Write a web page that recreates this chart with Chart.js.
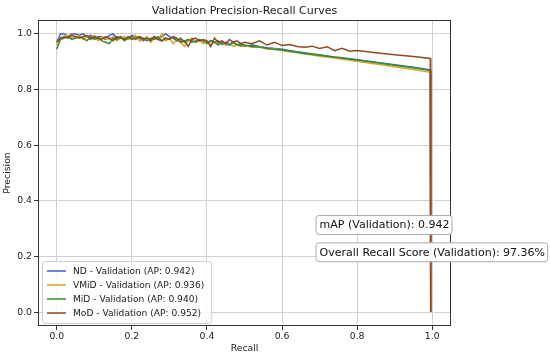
<!DOCTYPE html>
<html>
<head>
<meta charset="utf-8">
<script src="https://cdn.jsdelivr.net/npm/chart.js@4.4.1/dist/chart.umd.min.js"></script>
<style>
html,body{margin:0;padding:0;background:#fff;}
canvas{display:block;}
</style>
</head>
<body>
<canvas id="c" width="550" height="358"></canvas>
<script>
// ---- data ----
const recall = [
  0.00,0.01,0.02,0.03,0.04,0.05,0.06,0.07,0.08,0.09,
  0.10,0.11,0.12,0.13,0.14,0.15,0.16,0.17,0.18,0.19,
  0.20,0.21,0.22,0.23,0.24,0.25,0.26,0.27,0.28,0.29,
  0.30,0.31,0.32,0.33,0.34,0.35,0.36,0.37,0.38,0.39,
  0.40,0.41,0.42,0.43,0.44,0.45,0.46,0.47,0.48,0.49,
  0.50,
  0.52,0.54,0.56,0.58,0.60,0.62,0.64,0.66,0.68,0.70,0.72,0.74,0.76,0.78,0.80,
  0.85,0.90,0.95,0.995,0.996
];
const precisionND = [
  0.97,1.0,1.0,0.99,1.0,1.0,0.995,1.0,0.99,0.995,
  0.985,0.99,0.99,0.98,0.995,1.0,0.985,0.99,0.98,0.985,
  0.995,0.99,0.985,0.975,0.985,0.98,0.99,0.985,0.99,1.0,
  0.99,0.985,0.975,0.98,0.975,0.98,0.97,0.975,0.98,0.975,
  0.97,0.975,0.97,0.975,0.962,0.97,0.965,0.97,0.96,0.965,
  0.955,
  0.96,0.955,0.95,0.948,0.945,0.94,0.936,0.932,0.928,0.925,0.921,0.917,0.914,0.911,0.907,
  0.898,0.889,0.88,0.871,0.0
];
const precisionVMiD = [
  0.96,0.985,0.99,0.995,0.985,0.99,0.995,0.98,0.99,0.985,
  0.995,0.975,0.99,0.985,0.98,0.99,0.975,0.985,0.99,0.98,
  0.985,0.995,0.975,0.98,0.99,0.97,0.985,0.98,1.0,0.975,
  0.985,0.965,0.98,0.97,0.955,0.975,0.985,0.97,0.975,0.965,
  0.975,0.96,0.97,0.965,0.97,0.96,0.965,0.955,0.96,0.955,
  0.958,
  0.952,0.955,0.945,0.946,0.94,0.936,0.932,0.928,0.924,0.92,0.917,0.913,0.909,0.906,0.902,
  0.892,0.882,0.872,0.862,0.0
];
const precisionMiD = [
  0.945,0.98,0.985,0.99,0.98,0.985,0.99,0.985,0.975,0.99,
  0.98,0.985,0.975,0.97,0.965,0.985,0.98,0.99,0.975,0.985,
  0.99,0.98,0.99,0.985,0.975,0.985,0.98,0.99,0.975,0.985,
  0.98,0.99,0.975,0.985,0.97,0.98,0.975,0.97,0.98,0.975,
  0.965,0.975,0.97,0.96,0.97,0.965,0.96,0.97,0.962,0.958,
  0.96,
  0.955,0.952,0.948,0.944,0.942,0.938,0.934,0.93,0.927,0.923,0.92,0.916,0.913,0.909,0.906,
  0.897,0.887,0.878,0.868,0.0
];
const precisionMoD = [
  0.97,0.985,0.99,0.985,0.995,0.99,0.985,0.99,0.995,0.98,
  0.99,0.985,0.98,0.99,0.985,0.975,0.99,0.985,0.98,0.99,
  0.98,0.985,0.99,0.98,0.985,0.975,0.99,0.98,0.975,0.985,
  0.98,0.99,0.985,0.97,0.975,0.955,0.98,0.985,0.975,0.98,
  0.975,0.955,0.985,0.97,0.975,0.965,0.98,0.97,0.975,0.965,
  0.97,
  0.965,0.975,0.96,0.97,0.958,0.962,0.955,0.952,0.956,0.948,0.954,0.94,0.948,0.938,0.94,
  0.932,0.925,0.919,0.912,0.0
];
const seriesNames = ["ND - Validation (AP: 0.942)", "VMiD - Validation (AP: 0.936)", "MiD - Validation (AP: 0.940)", "MoD - Validation (AP: 0.952)"];
const seriesColors = ["#3f5fc8", "#d9a520", "#3a8f30", "#8b4a22"];
const tickValues = [0.0, 0.2, 0.4, 0.6, 0.8, 1.0];
const chartTitle = "Validation Precision-Recall Curves";
const annotationTexts = ["mAP (Validation): 0.942", "Overall Recall Score (Validation): 97.36%"];
const annotationAt = [[0.70, 0.313], [0.70, 0.215]]; // data coords (recall, precision) of text start / centre line

const allPrecision = [precisionND, precisionVMiD, precisionMiD, precisionMoD];
const FONT = "'DejaVu Sans', sans-serif";

const datasets = allPrecision.map((arr, i) => ({
  label: seriesNames[i],
  data: recall.map((r, k) => ({x: r, y: arr[k]})),
  borderColor: seriesColors[i],
  backgroundColor: seriesColors[i],
  borderWidth: 1.5,
  pointRadius: 0,
  tension: 0,
  fill: false,
  order: allPrecision.length - i
}));

function roundRect(ctx, x, y, w, h, r) {
  ctx.beginPath();
  ctx.moveTo(x + r, y);
  ctx.lineTo(x + w - r, y);
  ctx.quadraticCurveTo(x + w, y, x + w, y + r);
  ctx.lineTo(x + w, y + h - r);
  ctx.quadraticCurveTo(x + w, y + h, x + w - r, y + h);
  ctx.lineTo(x + r, y + h);
  ctx.quadraticCurveTo(x, y + h, x, y + h - r);
  ctx.lineTo(x, y + r);
  ctx.quadraticCurveTo(x, y, x + r, y);
  ctx.closePath();
}

const decor = {
  id: 'decor',
  afterDraw(chart) {
    const ctx = chart.ctx;
    const a = chart.chartArea;
    const xs = chart.scales.x, ys = chart.scales.y;
    ctx.save();
    // frame
    ctx.strokeStyle = '#333';
    ctx.lineWidth = 1;
    ctx.strokeRect(Math.round(a.left) + 0.5, Math.round(a.top) + 0.5, Math.round(a.right - a.left) - 1, Math.round(a.bottom - a.top) - 1);
    // title
    ctx.fillStyle = '#1a1a1a';
    ctx.font = "11px " + FONT;
    ctx.textAlign = 'center';
    ctx.textBaseline = 'middle';
    ctx.fillText(chartTitle, (a.left + a.right) / 2, 11);
    // legend
    ctx.font = "9.1px " + FONT;
    ctx.textAlign = 'left';
    const lx = a.left + 4, ly = 261;
    let maxW = 0;
    seriesNames.forEach(n => { maxW = Math.max(maxW, ctx.measureText(n).width); });
    const lw = 34 + maxW + 4, lh = 62;
    ctx.fillStyle = 'rgba(255,255,255,0.8)';
    roundRect(ctx, lx + 0.5, ly + 0.5, lw, lh, 2.5);
    ctx.fill();
    ctx.strokeStyle = '#d0d0d0';
    ctx.lineWidth = 1;
    ctx.stroke();
    seriesNames.forEach((n, i) => {
      const yy = ly + 10 + i * 14;
      ctx.strokeStyle = seriesColors[i];
      ctx.lineWidth = 1.5;
      ctx.beginPath();
      ctx.moveTo(lx + 5, yy);
      ctx.lineTo(lx + 24, yy);
      ctx.stroke();
      ctx.fillStyle = '#1a1a1a';
      ctx.fillText(n, lx + 31, yy + 0.5);
    });
    // annotation boxes
    ctx.font = "11px " + FONT;
    annotationTexts.forEach((t, i) => {
      const tx = xs.getPixelForValue(annotationAt[i][0]);
      const ty = ys.getPixelForValue(annotationAt[i][1]);
      const w = ctx.measureText(t).width;
      ctx.fillStyle = '#fff';
      roundRect(ctx, tx - 3.5, ty - 9.5, w + 6, 19, 3);
      ctx.fill();
      ctx.strokeStyle = '#aaa';
      ctx.lineWidth = 1;
      ctx.stroke();
      ctx.fillStyle = '#111';
      ctx.textAlign = 'left';
      ctx.fillText(t, tx, ty + 0.5);
    });
    ctx.restore();
  }
};

const axisCommon = (titleText, isY) => ({
  type: 'linear',
  min: -0.05,
  max: 1.05,
  afterBuildTicks: (axis) => { axis.ticks = tickValues.map(v => ({value: v})); },
  afterFit: (axis) => { if (isY) axis.width = 38; else axis.height = 32; },
  ticks: {
    callback: (v) => Number(v).toFixed(1),
    font: {family: FONT, size: 9.3},
    color: '#222',
    padding: isY ? 2 : 1,
    autoSkip: false,
    maxRotation: 0
  },
  grid: {
    color: '#d0d0d0',
    lineWidth: 1,
    tickColor: '#333',
    tickLength: 4,
    drawTicks: true
  },
  border: {display: false},
  title: {
    display: true,
    text: titleText,
    font: {family: FONT, size: 9.3},
    color: '#1a1a1a',
    padding: isY ? {top: 2, bottom: 0} : {top: 0, bottom: 4}
  }
});

new Chart(document.getElementById('c'), {
  type: 'line',
  data: {datasets},
  options: {
    responsive: false,
    animation: false,
    devicePixelRatio: 1,
    layout: {padding: {top: 20, right: 99, left: 0, bottom: 0}},
    plugins: {legend: {display: false}, tooltip: {enabled: false}, title: {display: false}},
    scales: {
      x: axisCommon('Recall', false),
      y: axisCommon('Precision', true)
    }
  },
  plugins: [decor]
});
</script>
</body>
</html>
